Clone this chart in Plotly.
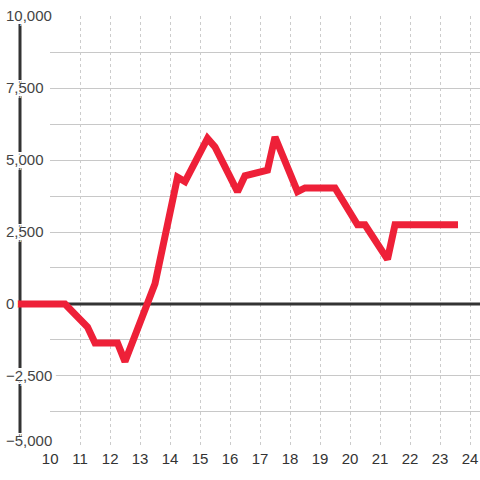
import plotly.graph_objects as go

# data
hours = [8.9, 10.5, 11.25, 11.5, 12.25, 12.5, 13.5, 14.25, 14.5, 15.25, 15.5,
         16.25, 16.5, 17.25, 17.5, 18.25, 18.5, 19.5, 20.25, 20.5, 21.25, 21.5, 23.6]
values = [0, 0, -800, -1350, -1350, -2000, 700, 4400, 4250, 5750, 5450,
          3900, 4450, 4650, 5800, 3900, 4030, 4030, 2750, 2750, 1550, 2750, 2750]
x_ticks = list(range(10, 25))
y_ticks = list(range(-5000, 10001, 2500))
y_minor = list(range(-5000, 10001, 1250))

W = H = 480
# grid box in pixels: left 50, right 480, top 16, bottom 448
gx0, gx1, gy0, gy1 = 50, 480, 16, 448
px_x = (gx1 - gx0) / (24.333 - 10)
px_y = (gy1 - gy0) / 15000

# full-frame axes that carry the line, with the same scale as the grid box
x2_range = [10 - gx0 / px_x, 24.333 + (W - gx1) / px_x]
y2_range = [-5000 - (H - gy1) / px_y, 10000 + gy0 / px_y]

# white halo so the tick labels cut through the dark axis line
halo = ", ".join(f"{dx}px {dy}px 0 white"
                 for dx in (-4, -2, 0, 2, 4) for dy in (-3, 0, 3))

fig = go.Figure()
# grid panel and the label-only axis have no data of their own
fig.add_trace(go.Scatter(x=[], y=[], xaxis="x", yaxis="y", hoverinfo="skip"))
fig.add_trace(go.Scatter(x=[], y=[], xaxis="x2", yaxis="y3", hoverinfo="skip"))
# the series, on the full-frame axes
fig.add_trace(go.Scatter(
    x=hours, y=values, mode="lines", xaxis="x2", yaxis="y2",
    line=dict(color="#ee2038", width=7),
    hoverinfo="skip",
))

label_axis = dict(
    range=y2_range, tickformat=",", anchor="x2", automargin=False,
    showgrid=False, zeroline=False, showline=False, ticks="",
    ticklabelposition="inside", ticklabelstandoff=3,
    tickfont=dict(shadow=halo),
)

fig.update_layout(
    width=W, height=H,
    margin=dict(l=0, r=0, t=0, b=0, autoexpand=False),
    paper_bgcolor="white", plot_bgcolor="rgba(0,0,0,0)",
    showlegend=False,
    font=dict(family="Liberation Sans, Arial, sans-serif", size=15, color="#333333"),
    xaxis=dict(
        domain=[gx0 / W, 1], range=[9.995, 24.333], anchor="y", automargin=False,
        tickvals=x_ticks,
        showgrid=True, gridcolor="#cccccc", gridwidth=1, griddash="dot",
        zeroline=False, showline=False, ticks="",
    ),
    yaxis=dict(
        domain=[(H - gy1) / H, (H - gy0) / H], range=[-5005, 10005], anchor="x",
        automargin=False, tickvals=y_ticks, showticklabels=False,
        showgrid=True, gridcolor="#c8c8c8", gridwidth=1,
        minor=dict(tickvals=y_minor, showgrid=True, gridcolor="#c8c8c8", gridwidth=1),
        zeroline=False, showline=False, ticks="",
    ),
    xaxis2=dict(
        domain=[0, 1], range=x2_range, anchor="y2", automargin=False,
        showgrid=False, zeroline=False, showline=False, showticklabels=False,
    ),
    # value labels; the lowest one is nudged up off the hour labels
    yaxis2=dict(domain=[0, 1], tickvals=y_ticks[1:], **label_axis),
    yaxis3=dict(overlaying="y2", tickvals=y_ticks[:1], ticklabelshift=-7, **label_axis),
    shapes=[
        # zero line
        dict(type="line", layer="between", xref="x2", yref="y2",
             x0=9, x1=x2_range[1], y0=0, y1=0,
             line=dict(color="#333333", width=3)),
        # vertical axis line
        dict(type="line", layer="between", xref="x2", yref="y2",
             x0=9, x1=9, y0=-5000, y1=10000,
             line=dict(color="#333333", width=3)),
    ],
)

fig.write_html("out.html", config={"displayModeBar": False},
               post_script="document.body.style.margin='0';")
